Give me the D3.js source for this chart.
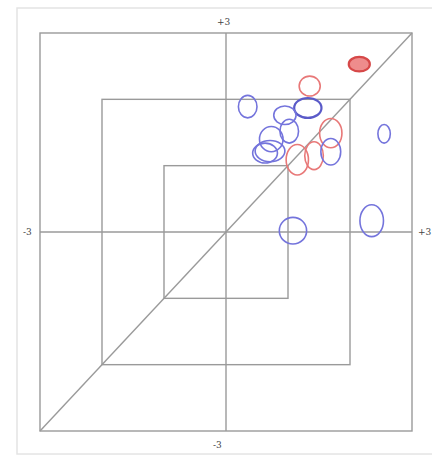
<!DOCTYPE html>
<html>
<head>
<meta charset="utf-8">
<script src="https://cdn.jsdelivr.net/npm/d3@7"></script>
<style>
  body { margin: 0; background: #fff; }
  text { font-family: "DejaVu Serif", serif; font-size: 9px; fill: #444; }
</style>
</head>
<body>
<script>
var width = 432,
    height = 459;

// ellipse centres and radii, in data units (-3..+3)
var xVals = [2.15, 1.35, 0.35, 1.32, 0.95, 1.02, 0.73, 0.71, 0.63, 1.69, 1.15, 1.42, 1.69, 2.55, 1.08, 2.35];
var yVals = [2.53, 2.20, 1.89, 1.87, 1.76, 1.52, 1.40, 1.22, 1.19, 1.49, 1.09, 1.15, 1.21, 1.48, 0.02, 0.17];
var rxVals = [0.17, 0.17, 0.15, 0.22, 0.18, 0.15, 0.19, 0.24, 0.20, 0.18, 0.18, 0.15, 0.16, 0.10, 0.22, 0.19];
var ryVals = [0.11, 0.15, 0.17, 0.15, 0.14, 0.18, 0.19, 0.16, 0.15, 0.22, 0.23, 0.21, 0.20, 0.14, 0.20, 0.24];
var groups = ["redFill", "red", "blue", "blueDark", "blue", "blue", "blue", "blue", "blue", "red", "red", "red", "blue", "blue", "blue", "blue"];
var squares = [3, 2, 1];
var tickLabels = ["-3", "+3"];

var x = d3.scaleLinear().domain([-3, 3]).range([40, 412]);
var y = d3.scaleLinear().domain([-3, 3]).range([431, 33]);

var svg = d3.select("body").append("svg")
    .attr("width", width)
    .attr("height", height);

// outer frame of the picture
svg.append("rect")
    .attr("x", 17).attr("y", 8)
    .attr("width", 430).attr("height", 446)
    .attr("fill", "none")
    .attr("stroke", "#e4e4e4")
    .attr("stroke-width", 1.5);

var grid = svg.append("g")
    .attr("stroke", "#9a9a9a")
    .attr("stroke-width", 1.4)
    .attr("fill", "none");

grid.selectAll("rect")
    .data(squares)
  .enter().append("rect")
    .attr("x", function(d) { return x(-d); })
    .attr("y", function(d) { return y(d); })
    .attr("width", function(d) { return x(d) - x(-d); })
    .attr("height", function(d) { return y(-d) - y(d); });

// axes through the origin
grid.append("line")
    .attr("x1", x(-3)).attr("x2", x(3))
    .attr("y1", y(0)).attr("y2", y(0));
grid.append("line")
    .attr("x1", x(0)).attr("x2", x(0))
    .attr("y1", y(-3)).attr("y2", y(3));
// diagonal
grid.append("line")
    .attr("x1", x(-3)).attr("y1", y(-3))
    .attr("x2", x(3)).attr("y2", y(3));

var data = xVals.map(function(v, i) {
  return { x: v, y: yVals[i], rx: rxVals[i], ry: ryVals[i], g: groups[i] };
});

var stroke = { red: "#e87878", redFill: "#d64848", blue: "#7474dc", blueDark: "#5a5ac8" };

svg.append("g")
  .selectAll("ellipse")
    .data(data)
  .enter().append("ellipse")
    .attr("cx", function(d) { return x(d.x); })
    .attr("cy", function(d) { return y(d.y); })
    .attr("rx", function(d) { return x(d.rx) - x(0); })
    .attr("ry", function(d) { return y(0) - y(d.ry); })
    .attr("fill", function(d) { return d.g == "redFill" ? "#ee8c8c" : "none"; })
    .attr("stroke", function(d) { return stroke[d.g]; })
    .attr("stroke-width", function(d) { return d.g == "blueDark" || d.g == "redFill" ? 2.2 : 1.6; });

// end labels
svg.append("text").attr("x", x(0) - 9).attr("y", y(3) - 8).text(tickLabels[1]);
svg.append("text").attr("x", x(0) - 13).attr("y", y(-3) + 17).text(tickLabels[0]);
svg.append("text").attr("x", x(-3) - 17).attr("y", y(0) + 3).text(tickLabels[0]);
svg.append("text").attr("x", x(3) + 6).attr("y", y(0) + 3).text(tickLabels[1]);
</script>
</body>
</html>
